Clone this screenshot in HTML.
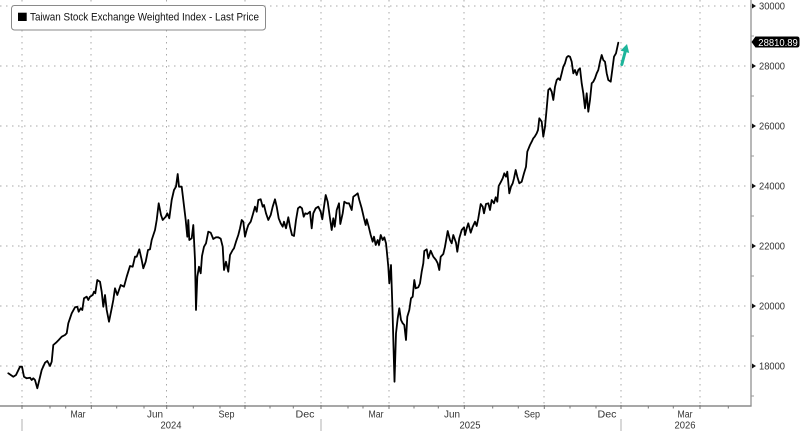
<!DOCTYPE html>
<html><head><meta charset="utf-8"><style>
html,body{margin:0;padding:0;background:#fff;}
svg{display:block;}
text{font-family:"Liberation Sans","DejaVu Sans",sans-serif;}
</style></head><body>
<svg width="800" height="431" viewBox="0 0 800 431" xmlns="http://www.w3.org/2000/svg">
<rect x="0" y="0" width="800" height="431" fill="#fff"/>
<!-- horizontal gridlines -->
<g stroke="#a8a8a8" stroke-width="1" stroke-dasharray="1.5 4.5" fill="none">
<line x1="0" y1="6" x2="751" y2="6"/>
<line x1="0" y1="66" x2="751" y2="66"/>
<line x1="0" y1="126" x2="751" y2="126"/>
<line x1="0" y1="186" x2="751" y2="186"/>
<line x1="0" y1="246" x2="751" y2="246"/>
<line x1="0" y1="306" x2="751" y2="306"/>
<line x1="0" y1="366" x2="751" y2="366"/>
</g>
<!-- vertical gridlines -->
<g stroke="#a8a8a8" stroke-width="1" stroke-dasharray="1.5 4.5" fill="none">
<line x1="22" y1="0" x2="22" y2="406"/>
<line x1="91" y1="0" x2="91" y2="406"/>
<line x1="166.5" y1="0" x2="166.5" y2="406"/>
<line x1="245" y1="0" x2="245" y2="406"/>
<line x1="321" y1="0" x2="321" y2="406"/>
<line x1="389" y1="0" x2="389" y2="406"/>
<line x1="464" y1="0" x2="464" y2="406"/>
<line x1="544" y1="0" x2="544" y2="406"/>
<line x1="621" y1="0" x2="621" y2="406"/>
<line x1="700" y1="0" x2="700" y2="406"/>
</g>
<!-- axes -->
<line x1="751" y1="0" x2="751" y2="406.5" stroke="#9a9a9a" stroke-width="1.4"/>
<line x1="0" y1="406" x2="751.5" y2="406" stroke="#8a8a8a" stroke-width="1.4"/>
<!-- bottom ticks -->
<g stroke="#777" stroke-width="1">
<line x1="22" y1="405" x2="22" y2="409"/>
<line x1="50" y1="406" x2="50" y2="408.5"/>
<line x1="65.7" y1="406" x2="65.7" y2="408.5"/>
<line x1="91.3" y1="405" x2="91.3" y2="409"/>
<line x1="116.7" y1="406" x2="116.7" y2="408.5"/>
<line x1="144" y1="406" x2="144" y2="408.5"/>
<line x1="166.7" y1="405" x2="166.7" y2="409"/>
<line x1="193.3" y1="406" x2="193.3" y2="408.5"/>
<line x1="220" y1="406" x2="220" y2="408.5"/>
<line x1="245" y1="405" x2="245" y2="409"/>
<line x1="270" y1="406" x2="270" y2="408.5"/>
<line x1="293.3" y1="406" x2="293.3" y2="408.5"/>
<line x1="321" y1="405" x2="321" y2="409"/>
<line x1="348" y1="406" x2="348" y2="408.5"/>
<line x1="363" y1="406" x2="363" y2="408.5"/>
<line x1="389" y1="405" x2="389" y2="409"/>
<line x1="414" y1="406" x2="414" y2="408.5"/>
<line x1="438.3" y1="406" x2="438.3" y2="408.5"/>
<line x1="464.3" y1="405" x2="464.3" y2="409"/>
<line x1="492.7" y1="406" x2="492.7" y2="408.5"/>
<line x1="518.3" y1="406" x2="518.3" y2="408.5"/>
<line x1="544.3" y1="405" x2="544.3" y2="409"/>
<line x1="570" y1="406" x2="570" y2="408.5"/>
<line x1="596" y1="406" x2="596" y2="408.5"/>
<line x1="621" y1="405" x2="621" y2="409"/>
<line x1="648.3" y1="406" x2="648.3" y2="408.5"/>
<line x1="673.3" y1="406" x2="673.3" y2="408.5"/>
<line x1="700" y1="405" x2="700" y2="409"/>
<line x1="728.3" y1="406" x2="728.3" y2="408.5"/>
</g>
<!-- year separators -->
<g stroke="#b0b0b0" stroke-width="1">
<line x1="22" y1="419" x2="22" y2="431"/>
<line x1="321" y1="419" x2="321" y2="431"/>
<line x1="621" y1="419" x2="621" y2="431"/>
</g>
<!-- month labels -->
<g font-size="10" fill="#333" text-anchor="middle">
<text x="78" y="417.5" textLength="15" lengthAdjust="spacingAndGlyphs">Mar</text>
<text x="155" y="417.5" textLength="16" lengthAdjust="spacingAndGlyphs">Jun</text>
<text x="226.5" y="417.5" textLength="16" lengthAdjust="spacingAndGlyphs">Sep</text>
<text x="305" y="417.5" textLength="19" lengthAdjust="spacingAndGlyphs">Dec</text>
<text x="376" y="417.5" textLength="15" lengthAdjust="spacingAndGlyphs">Mar</text>
<text x="452" y="417.5" textLength="16" lengthAdjust="spacingAndGlyphs">Jun</text>
<text x="532" y="417.5" textLength="16" lengthAdjust="spacingAndGlyphs">Sep</text>
<text x="607" y="417.5" textLength="19" lengthAdjust="spacingAndGlyphs">Dec</text>
<text x="685" y="417.5" textLength="15" lengthAdjust="spacingAndGlyphs">Mar</text>
<text x="171" y="428.5" textLength="21" lengthAdjust="spacingAndGlyphs">2024</text>
<text x="470" y="428.5" textLength="21" lengthAdjust="spacingAndGlyphs">2025</text>
<text x="685" y="428.5" textLength="21" lengthAdjust="spacingAndGlyphs">2026</text>
</g>
<!-- right axis ticks -->
<g fill="#111">
<polygon points="752,3.5 756,6 752,8.5"/>
<polygon points="752,63.5 756,66 752,68.5"/>
<polygon points="752,123.5 756,126 752,128.5"/>
<polygon points="752,183.5 756,186 752,188.5"/>
<polygon points="752,243.5 756,246 752,248.5"/>
<polygon points="752,303.5 756,306 752,308.5"/>
<polygon points="752,363.5 756,366 752,368.5"/>
</g>
<g stroke="#999" stroke-width="1">
<line x1="751" y1="36" x2="754" y2="36"/>
<line x1="751" y1="96" x2="754" y2="96"/>
<line x1="751" y1="156" x2="754" y2="156"/>
<line x1="751" y1="216" x2="754" y2="216"/>
<line x1="751" y1="276" x2="754" y2="276"/>
<line x1="751" y1="336" x2="754" y2="336"/>
<line x1="751" y1="396" x2="754" y2="396"/>
</g>
<g font-size="10" fill="#333">
<text x="759" y="9.7" textLength="26" lengthAdjust="spacingAndGlyphs">30000</text>
<text x="759" y="69.7" textLength="26" lengthAdjust="spacingAndGlyphs">28000</text>
<text x="759" y="129.7" textLength="26" lengthAdjust="spacingAndGlyphs">26000</text>
<text x="759" y="189.7" textLength="26" lengthAdjust="spacingAndGlyphs">24000</text>
<text x="759" y="249.7" textLength="26" lengthAdjust="spacingAndGlyphs">22000</text>
<text x="759" y="309.7" textLength="26" lengthAdjust="spacingAndGlyphs">20000</text>
<text x="759" y="369.7" textLength="26" lengthAdjust="spacingAndGlyphs">18000</text>
</g>
<!-- price label -->
<path d="M751.5 42 L755.5 36.5 H797 Q799.5 36.5 799.5 39 V45 Q799.5 47.5 797 47.5 H755.5 Z" fill="#000"/>
<text x="758.3" y="45.8" font-size="10" fill="#fff" textLength="39.5" lengthAdjust="spacingAndGlyphs">28810.89</text>
<!-- series -->
<polyline fill="none" stroke="#000" stroke-width="1.8" stroke-linejoin="round" stroke-linecap="round" points="
8.3,373.3 13.3,376.7 16,375 20,366.7 22,366.7 24,376.7 26.7,378.3 30,377.7 31.7,380 33.3,378.3 35,380 37.3,388.3 39.3,380 41.7,370 45,362.7 47.3,361 50,366 51.7,361.7 53.3,345 56,342.7 58.7,340 61.7,336.7 65,335 66.7,333.3 68.3,323.3 71.7,313.3 75,307.3 77.3,306.7 78.7,311.7 80.7,308.3 82.3,310 84,298.3 86.7,296.7 88.3,300 90,296.7 92.7,295 94,291.7 95.3,293.3 97.3,280 100,281.7 101.7,291.7 103.3,306.7 105,295 106.7,310 109,321.7 111.7,308.3 113.3,300 115,288.3 117.3,295 120.7,285 124,286.7 126.7,276.7 130,266 132.7,266.7 135,256.7 136.7,256.7 139.3,249.3 141.7,260 143.3,268.3 145.7,261.7 148,250 150,249.3 151.7,240 155,230 156.7,220 158.7,203.3 161,215 162.7,220 165.7,216.7 167.3,213.3 169.3,218.3 171.7,200 174,190 176,186.7 177.7,174 179,186.7 181.7,186.7 183.3,200 185.7,220 187.3,236.7 188.3,220 189.3,240 191.7,238.3 193.3,225 195,260 196,310 197.3,276.7 199,266.7 200.7,273.3 202,256 204,246.7 206,243.3 208.3,231.7 210.7,232.7 213.3,239 216,237.3 218.3,237.3 220.7,238.7 222.7,246.7 224,270 226,261.7 228.3,271.7 230,255 232.7,250 234,248.3 236,241.7 238.3,235 240,228.3 241.7,220 243.3,221.7 245,236.7 246.7,230 248.3,225 250.7,221.7 252.7,215 255,206.7 256.7,211.7 258.3,200 260.7,199.3 262.7,206.7 264,205 266,213.3 268.3,220 270.7,215 272.7,206.7 275,199.3 276.7,206.7 278.7,218.3 280.7,223.3 282.7,226.7 284,221.7 286,228.3 288.3,217.3 290,226.7 292,235 294,236 296,220 298,208.3 300,206.7 302,208.3 303.7,216.7 305.3,213.3 307.3,214 310,211.7 311.7,228.3 313.3,213.3 315.7,208.3 318.3,206.7 320.7,211.7 322.3,219.3 324,206.7 325.7,195 327.7,201.7 330,218.3 331.7,230 333.3,218.3 334.7,226.7 336.7,210 339,203.3 340.3,224 342.7,213.3 344.3,201.7 346.7,203.3 349,203.3 351.7,210 353.3,196.7 355.7,195 357.7,193.3 359.3,200 361.7,208.3 364,218.3 365.7,225 366.7,219.3 368.7,226.7 370.7,235 372.7,241.7 374,236.7 375.7,245 377.7,240 379,245 380.7,235 382.7,240 384.3,237.3 386,243.3 386.7,250 388.3,266.7 389.3,283.3 391,265 392.5,310 393.5,346.7 394.5,381.7 396,333.3 397.7,318.3 399.3,308.3 401,320 402.7,323.3 404.3,325 406,340 407.3,316.7 409.3,310 411,298.3 412.7,296.7 414.3,280 415.7,288.3 418.3,287.3 420,283.3 421.7,271.7 423.3,263.3 424.3,251 426.7,249.3 428.3,258.3 430.7,250.7 433.3,256.7 436,260 437.7,263.3 439.3,270 440.7,256.7 443.3,254 445,246.7 447.7,231 450,240 451.7,243.3 453.3,235 456,242.7 457.3,251.7 459.3,238.3 461.7,230 464,227.3 465,235 466.7,228.3 468.3,223.3 470.7,232.7 472.7,226.7 475,221.7 476.7,226 478.3,218.3 480.7,204 482.7,206.7 484,213.3 486,204 488.3,203.3 490,210 491.7,200 494,203.3 495.7,197.3 497.3,201.7 498.7,186 501,181.7 502.7,178.3 504.3,173.3 506,176.7 507.3,171.7 509.3,193.3 511,186.7 512.7,183.3 514,178.3 515.7,170 517.3,176.7 519.3,183.3 521.7,181.7 524,173.3 526,166.7 527.3,151.7 530,145 531.7,141.7 533.3,138.3 534.7,136.7 536.7,133.3 538,130 539.3,118.3 541.7,121.7 543.3,136.7 545,126.7 546.7,108.3 548.3,90 550,88.3 551.7,91.7 553.3,100 555,86.7 556.7,80 558.3,78.3 560,80 561.7,73.3 563.3,66.7 565,63.3 566.7,57.3 568.3,56 570,56.7 571.7,61.7 573.3,73.3 575,70 576.7,75 578.3,70 580,68.3 581.7,83.3 583.3,93.3 585,108.3 586.7,93.3 588.3,111.7 590,100 591.7,83.3 593.3,81.7 595,78.3 596.7,73.3 598.3,70 600,61.7 601.7,55 603.3,60 605,61.7 606.7,73.3 608.3,80 610.7,81.7 612.7,66.7 614,56.7 616,53.3 618.3,42.7"/>
<!-- arrow -->
<line x1="621.8" y1="64.5" x2="625" y2="52.5" stroke="#1db59b" stroke-width="3" stroke-linecap="round"/>
<polygon points="627,44 629.2,53 620.6,50.6" fill="#1db59b"/>
<!-- legend -->
<rect x="11.5" y="5.5" width="254" height="24.5" rx="3" ry="3" fill="#fff" stroke="#8a8a8a" stroke-width="1"/>
<rect x="18" y="12.7" width="8.7" height="8.3" fill="#000"/>
<text x="30" y="20.7" font-size="11" fill="#111" textLength="229" lengthAdjust="spacingAndGlyphs">Taiwan Stock Exchange Weighted Index - Last Price</text>
</svg>
</body></html>
